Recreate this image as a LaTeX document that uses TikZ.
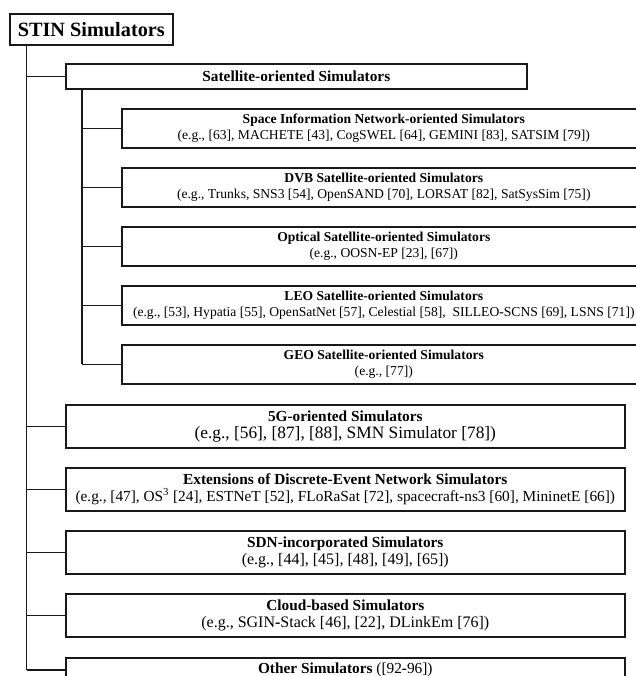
\documentclass[tikz,border=0pt]{standalone}
\usepackage{fontspec}
\setmainfont{Liberation Serif}
\newcommand\bh{\textbf{-}}
\begin{document}
\begin{tikzpicture}[x=0.75pt,y=-0.75pt,
  frame/.style={draw=black!90, line width=1.2pt, inner sep=0pt, align=center},
  link/.style={draw=black!90, line width=1.2pt},
  ltwo/.style={frame, anchor=north west, minimum width=393pt, minimum height=29.25pt,
    font=\fontsize{10.2}{12}\selectfont},
  lone/.style={frame, anchor=north west, minimum width=419.25pt, minimum height=32.25pt,
    font=\fontsize{12}{12.5}\selectfont},
]
\useasboundingbox (0,0) rectangle (636,676);
\clip (0,0) rectangle (636,676);

% root and first group
\node[frame, anchor=north west, minimum width=122.25pt, minimum height=23.25pt,
  font=\fontsize{15.2}{18}\selectfont\bfseries] (root) at (9,13) {STIN Simulators};
\node[frame, anchor=north west, minimum width=345.75pt, minimum height=18.75pt,
  font=\fontsize{11.5}{13}\selectfont\bfseries] (sat) at (65,63) {Satellite-oriented Simulators};

% satellite sub-categories
\node[ltwo] (sin) at (121,108) {\textbf{Space Information Network-oriented Simulators}\\
  (e.g., [63], MACHETE [43], CogSWEL [64], GEMINI [83], SATSIM [79])};
\node[ltwo] (dvb) at (121,167) {\textbf{DVB Satellite-oriented Simulators}\\
  (e.g., Trunks, SNS3 [54], OpenSAND [70], LORSAT [82], SatSysSim [75])};
\node[ltwo] (opt) at (121,226) {\textbf{Optical Satellite-oriented Simulators}\\
  (e.g., OOSN\bh EP [23], [67])};
\node[ltwo] (leo) at (121,285) {\textbf{LEO Satellite-oriented Simulators}\\
  (e.g., [53], Hypatia [55], OpenSatNet [57], Celestial [58], \ SILLEO\bh SCNS [69], LSNS [71])};
\node[ltwo] (geo) at (121,344) {\textbf{GEO Satellite-oriented Simulators}\\
  (e.g., [77])};

% remaining top-level categories
\node[lone] (fg) at (65,404) {{\fontsize{11.5}{13}\selectfont\bfseries 5G-oriented Simulators}\\
  {\fontsize{13}{14}\selectfont (e.g., [56], [87], [88], SMN Simulator [78])}};
\node[lone] (ext) at (65,467) {{\fontsize{11.5}{13}\selectfont\bfseries Extensions of Discrete-Event Network Simulators}\\
  {\fontsize{11.5}{13}\selectfont (e.g., [47], OS\textsuperscript{3} [24], ESTNeT [52], FLoRaSat [72], spacecraft\bh ns3 [60], MininetE [66])}};
\node[lone] (sdn) at (65,530) {{\fontsize{11.5}{13}\selectfont\bfseries SDN-incorporated Simulators}\\
  {\fontsize{12}{14}\selectfont (e.g., [44], [45], [48], [49], [65])}};
\node[lone] (cld) at (65,593) {{\fontsize{11.5}{13}\selectfont\bfseries Cloud-based Simulators}\\
  {\fontsize{12}{14}\selectfont (e.g., SGIN\bh Stack [46], [22], DLinkEm [76])}};
\node[lone, minimum height=18pt] (oth) at (65,657) {{\fontsize{11.5}{13}\selectfont\textbf{Other Simulators} ([92\bh 96])}};

% tree connectors: one trunk per level, then a branch to each box
\coordinate (ta) at ([xshift=13.125pt]root.south west);
\coordinate (tb) at ([xshift=12.75pt]sat.south west);
\draw[link] (ta) -- (ta |- oth.west);
\draw[link] (tb) -- (tb |- geo.west);
\foreach \n in {sat,fg,ext,sdn,cld,oth} \draw[link] (ta |- \n.west) -- (\n.west);
\foreach \n in {sin,dvb,opt,leo,geo} \draw[link] (tb |- \n.west) -- (\n.west);
\end{tikzpicture}
\end{document}
